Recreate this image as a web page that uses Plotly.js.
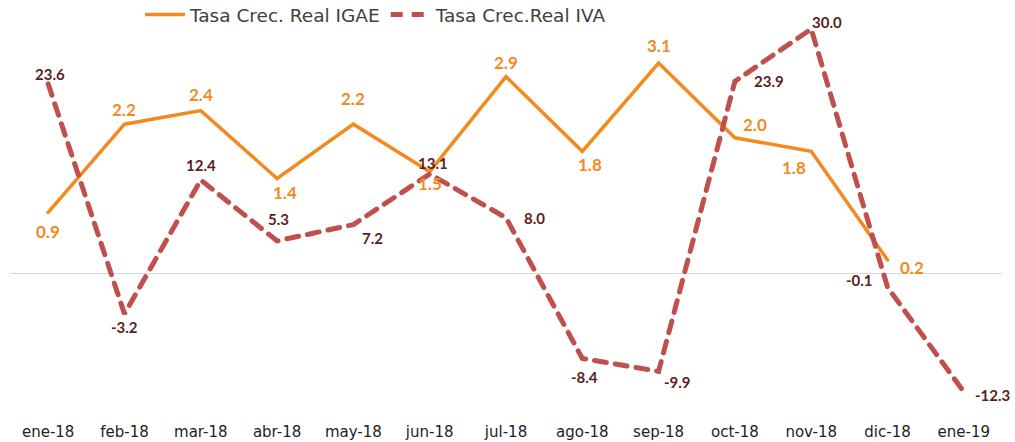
<!DOCTYPE html>
<html>
<head>
<meta charset="utf-8">
<script src="https://cdn.plot.ly/plotly-3.0.1.min.js"></script>
<style>
html,body{margin:0;padding:0;background:#fff;}
#chart{width:1015px;height:442px;}
.scatterlayer .js-line{stroke-linecap:round;}
</style>
</head>
<body>
<div id="chart"></div>
<script>
const months = ["ene-18","feb-18","mar-18","abr-18","may-18","jun-18","jul-18","ago-18","sep-18","oct-18","nov-18","dic-18","ene-19"];
const igae = [0.9, 2.2, 2.4, 1.4, 2.2, 1.5, 2.9, 1.8, 3.1, 2.0, 1.8, 0.2, null];
const iva = [23.6, -3.2, 12.4, 5.3, 7.2, 13.1, 8.0, -8.4, -9.9, 23.9, 30.0, -0.1, -12.3];

// label offsets in pixels [dx, dy(screen down)]
const igaeOff = [[0,19],[0,-15],[0,-16],[8,14],[0,-26],[0,12],[0,-14],[8,13],[0,-18],[20,-13],[-17,16],[24,7],[0,0]];
const ivaOff = [[2,-10],[0,13],[0,-15],[1,-22],[19,13],[3,-11],[28,0],[2,19],[19,11],[34,0],[16,-7],[-28,-7],[29,3]];

const fmt = v => v.toFixed(1);
const IGAE_C = "#F28A1E", IVA_C = "#C0504D", IVA_LBL = "#5A1E1E";

const traces = [
  {
    x: months, y: igae, name: "Tasa Crec. Real IGAE", type: "scatter", mode: "lines",
    line: {color: IGAE_C, width: 3.5}, yaxis: "y"
  },
  {
    x: months, y: iva, name: "Tasa Crec.Real IVA", type: "scatter", mode: "lines",
    line: {color: IVA_C, width: 5, dash: "12px,9px"}, yaxis: "y2"
  }
];

const annotations = [];
igae.forEach((v, i) => {
  if (v === null) return;
  annotations.push({x: months[i], y: v, xref: "x", yref: "y", text: fmt(v), showarrow: false,
    xshift: igaeOff[i][0], yshift: -igaeOff[i][1],
    font: {family: "Lato, 'Open Sans', sans-serif", size: 17, color: IGAE_C, weight: "bold"}});
});
iva.forEach((v, i) => {
  if (v === null) return;
  annotations.push({x: months[i], y: v, xref: "x", yref: "y2", text: fmt(v), showarrow: false,
    xshift: ivaOff[i][0], yshift: -ivaOff[i][1],
    font: {family: "Lato, 'Open Sans', sans-serif", size: 15, color: IVA_LBL, weight: "bold"}});
});

const layout = {
  width: 1015, height: 442,
  margin: {l: 10, r: 13, t: 15, b: 21, autoexpand: false},
  paper_bgcolor: "#fff", plot_bgcolor: "#fff",
  showlegend: true,
  legend: {orientation: "h", x: 0.131, xanchor: "left", y: 1.0, yanchor: "middle",
    font: {family: "'DejaVu Sans', sans-serif", size: 18.5, color: "#404040"},
    itemwidth: 40, tracegroupgap: 0, bgcolor: "rgba(0,0,0,0)"},
  xaxis: {type: "category", range: [-0.5, 12.5], showgrid: false, zeroline: false, showline: false,
    ticks: "", tickfont: {family: "'DejaVu Sans', sans-serif", size: 15, color: "#222"}},
  yaxis: {range: [-2.171, 3.808], showgrid: false, zeroline: true, zerolinecolor: "#D9D9D9", zerolinewidth: 1.5,
    showticklabels: false, showline: false, ticks: ""},
  yaxis2: {range: [-15.69, 31.63], overlaying: "y", side: "right", showgrid: false, zeroline: false,
    showticklabels: false, showline: false, ticks: ""},
  annotations: annotations
};

Plotly.newPlot("chart", traces, layout, {displayModeBar: false, staticPlot: true});
</script>
</body>
</html>
